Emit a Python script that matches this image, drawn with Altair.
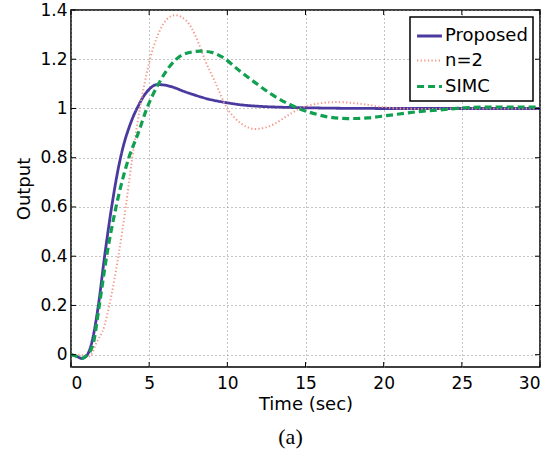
import altair as alt
import pandas as pd

# ---- data ----
series_names = ["Proposed", "n=2", "SIMC"]

proposed_t = [0, 0.3, 0.68, 1.0, 1.32, 1.75, 2.15, 2.6, 3.1, 3.4, 3.7, 4.0, 4.3, 4.65, 5.0, 5.5, 6.0, 6.6, 7.2, 7.8, 8.8, 10, 11, 12, 13.5, 15, 17, 20, 25, 30]
proposed_y = [0, -0.005, -0.015, -0.004, 0.047, 0.2, 0.4, 0.6, 0.78, 0.86, 0.92, 0.97, 1.01, 1.05, 1.078, 1.097, 1.095, 1.085, 1.07, 1.057, 1.038, 1.023, 1.014, 1.009, 1.005, 1.003, 1.001, 1.0, 1.0, 1.0]

n2_t = [0, 0.5, 0.9, 1.1, 1.3, 1.6, 2.15, 2.45, 3.03, 3.5, 3.92, 4.2, 4.4, 4.7, 5.05, 5.5, 6.1, 6.65, 7.4, 8.0, 8.55, 9.2, 10.0, 10.7, 11.8, 12.95, 13.8, 14.65, 15.7, 17.0, 18.5, 19.8, 21, 23, 25, 30]
n2_y = [0, 0, -0.004, -0.008, 0.0, 0.045, 0.12, 0.2, 0.4, 0.6, 0.8, 0.92, 1.0, 1.1, 1.2, 1.29, 1.36, 1.379, 1.355, 1.29, 1.2, 1.11, 1.0, 0.948, 0.917, 0.935, 0.969, 1.0, 1.019, 1.026, 1.019, 1.007, 1.0, 0.998, 1.0, 1.0]

simc_t = [0, 0.3, 0.68, 1.0, 1.43, 1.81, 2.28, 2.88, 3.7, 4.3, 4.85, 5.6, 6.3, 7.2, 8.3, 9.0, 9.75, 10.8, 11.8, 12.84, 14.0, 14.55, 15.5, 16.5, 17.7, 19, 20.3, 22.2, 24.1, 25.4, 27, 30]
simc_y = [0, -0.005, -0.015, -0.004, 0.047, 0.2, 0.4, 0.6, 0.8, 0.9, 1.0, 1.1, 1.17, 1.22, 1.233, 1.228, 1.206, 1.152, 1.104, 1.057, 1.016, 1.0, 0.98, 0.965, 0.959, 0.962, 0.972, 0.987, 0.997, 1.004, 1.006, 1.006]

x_ticks = [0, 5, 10, 15, 20, 25, 30]
y_ticks = [0, 0.2, 0.4, 0.6, 0.8, 1.0, 1.2, 1.4]

colors = ["#4a3a9f", "#f4998a", "#10a050"]
dashes = [[1, 0], [1.3, 2.3], [7, 4]]
widths = [2.8, 2.0, 3.2]

rows = []
for name, ts, ys in [("Proposed", proposed_t, proposed_y), ("n=2", n2_t, n2_y), ("SIMC", simc_t, simc_y)]:
    for t, v in zip(ts, ys):
        rows.append({"series": name, "t": t, "v": v, "ord": series_names.index(name)})
df = pd.DataFrame(rows)

xt_df = pd.DataFrame({"xt": x_ticks})
yt_df = pd.DataFrame({"yt": y_ticks})

W, H = 469, 357
FONT = "DejaVu Sans"

xscale = alt.Scale(domain=[0, 30], nice=False, zero=False)
yscale = alt.Scale(domain=[-0.05, 1.4], nice=False, zero=False)

lines = alt.Chart(df).mark_line(interpolate="monotone", clip=True).encode(
    x=alt.X("t:Q", scale=xscale,
            axis=alt.Axis(values=x_ticks, title="Time (sec)", format="~g")),
    y=alt.Y("v:Q", scale=yscale,
            axis=alt.Axis(values=y_ticks, title="Output", format=".1~f")),
    color=alt.Color("series:N", scale=alt.Scale(domain=series_names, range=colors),
                    sort=series_names, legend=alt.Legend(title=None)),
    strokeDash=alt.StrokeDash("series:N", scale=alt.Scale(domain=series_names, range=dashes),
                              sort=series_names, legend=alt.Legend(title=None)),
    strokeWidth=alt.StrokeWidth("series:N",
                                scale=alt.Scale(type="ordinal", domain=series_names, range=widths),
                                sort=series_names, legend=alt.Legend(title=None)),
    order=alt.Order("ord:Q"),
)

tick_bottom = alt.Chart(xt_df).mark_rule(color="black", strokeWidth=1).encode(
    x=alt.X("xt:Q", scale=xscale), y=alt.value(H), y2=alt.value(H - 5))
tick_top = alt.Chart(xt_df).mark_rule(color="black", strokeWidth=1).encode(
    x=alt.X("xt:Q", scale=xscale), y=alt.value(0), y2=alt.value(5))
tick_left = alt.Chart(yt_df).mark_rule(color="black", strokeWidth=1).encode(
    y=alt.Y("yt:Q", scale=yscale), x=alt.value(0), x2=alt.value(5))
tick_right = alt.Chart(yt_df).mark_rule(color="black", strokeWidth=1).encode(
    y=alt.Y("yt:Q", scale=yscale), x=alt.value(W), x2=alt.value(W - 5))

chart = alt.layer(lines, tick_bottom, tick_top, tick_left, tick_right).properties(
    width=W, height=H,
    autosize=alt.AutoSizeParams(type="none"),
    padding={"left": 71, "top": 10, "right": 20, "bottom": 93},
    title=alt.TitleParams("(a)", orient="bottom", anchor="middle", font="Liberation Serif",
                          fontSize=22, fontWeight="normal", color="black", offset=14, dx=-15),
).configure_view(
    stroke="black", strokeWidth=1.5
).configure_axis(
    grid=True, gridColor="#8a8a8a", gridDash=[1, 3], gridWidth=1, gridOpacity=1,
    ticks=False, domain=False,
    labelFont=FONT, labelFontSize=17, labelColor="black",
    titleFont=FONT, titleFontSize=18, titleFontWeight="normal", titleColor="black",
).configure_axisX(
    labelPadding=8, titlePadding=4,
).configure_axisY(
    labelPadding=4, titlePadding=6,
).configure_legend(
    orient="top-right", offset=7, strokeColor="black", fillColor="white", strokeWidth=1.5,
    padding=5, labelFont=FONT, labelFontSize=18, labelColor="black",
    symbolType="stroke", symbolSize=620, labelOffset=1, rowPadding=2,
    cornerRadius=0,
)

chart.save("out.html", embed_options={"renderer": "svg", "actions": False})
